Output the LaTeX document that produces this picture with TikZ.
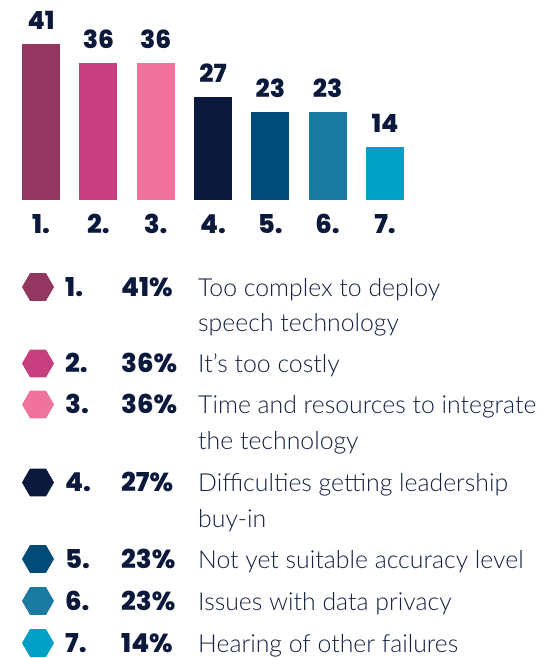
\documentclass[tikz,border=0pt]{standalone}
\usepackage{fontspec}
\setmainfont{Lato}
\newfontfamily\numfont{Poppins ExtraBold}
\newfontfamily\descfont{Lato Light}
\usetikzlibrary{
    shapes.geometric,
    positioning
}
\definecolor{cplum}{RGB}{147,55,97}
\definecolor{crose}{RGB}{199,63,126}
\definecolor{cpink}{RGB}{240,115,158}
\definecolor{cnavy}{RGB}{11,25,60}
\definecolor{cpetrol}{RGB}{0,76,120}
\definecolor{csteel}{RGB}{26,122,162}
\definecolor{cteal}{RGB}{0,160,198}
\definecolor{ctext}{RGB}{20,32,66}
% text block whose baseline is its first line
\newcommand\legitem[1]{\begin{tabular}[t]{@{}l@{}}#1\end{tabular}}

\begin{document}
\begin{tikzpicture}[x=1pt, y=-1pt,
    barbox/.style={minimum width=38pt, inner sep=0, anchor=south},
    vallabel/.style={font=\numfont\fontsize{25}{25}\selectfont, text=cnavy, inner sep=0, text depth=0pt},
    idxlabel/.style={font=\numfont\fontsize{26}{26}\selectfont, text=cnavy, inner sep=0},
    hexa/.style={regular polygon, regular polygon sides=6, minimum size=32pt, inner sep=0},
    leglabel/.style={font=\numfont\fontsize{26}{26}\selectfont, text=cnavy, inner sep=0, text depth=0pt},
    legtext/.style={font=\descfont\fontsize{24.8}{35.5}\selectfont, text=ctext, inner sep=0}
]
\useasboundingbox (0,0) rectangle (557,658);

% bars
\foreach \i/\v/\c in {1/41/cplum, 2/36/crose, 3/36/cpink, 4/27/cnavy, 5/23/cpetrol, 6/23/csteel, 7/14/cteal} {
    \pgfmathsetmacro\xc{41+57.33*(\i-1)}
    \node[barbox, fill=\c, minimum height={\v*3.8pt}] (bar\i) at (\xc,200) {};
    \node[vallabel, above=14pt of bar\i] (val\i) {\v};
    \node[idxlabel, anchor=base] (idx\i) at (\xc,233.5) {\i.};
}

% legend (y = baseline of the first line)
\foreach \i/\y/\p/\c/\t in {
    1/296/41/cplum/{Too complex to deploy\\speech technology},
    2/372.5/36/crose/{It’s too costly},
    3/413.5/36/cpink/{Time and resources to integrate\\the technology},
    4/491.5/27/cnavy/{Difficulties getting leadership\\buy-in},
    5/568/23/cpetrol/{Not yet suitable accuracy level},
    6/610/23/csteel/{Issues with data privacy},
    7/652/14/cteal/{Hearing of other failures}} {
    \node[hexa, fill=\c] (hex\i) at (38,\y-9) {};
    \node[leglabel, anchor=base west] (num\i) at (65,\y) {\i.};
    \node[leglabel, anchor=base west] (pct\i) at (121,\y) {\p\%};
    \node[legtext, anchor=base west] (txt\i) at (198,\y) {\legitem{\t}};
}
\end{tikzpicture}
\end{document}
